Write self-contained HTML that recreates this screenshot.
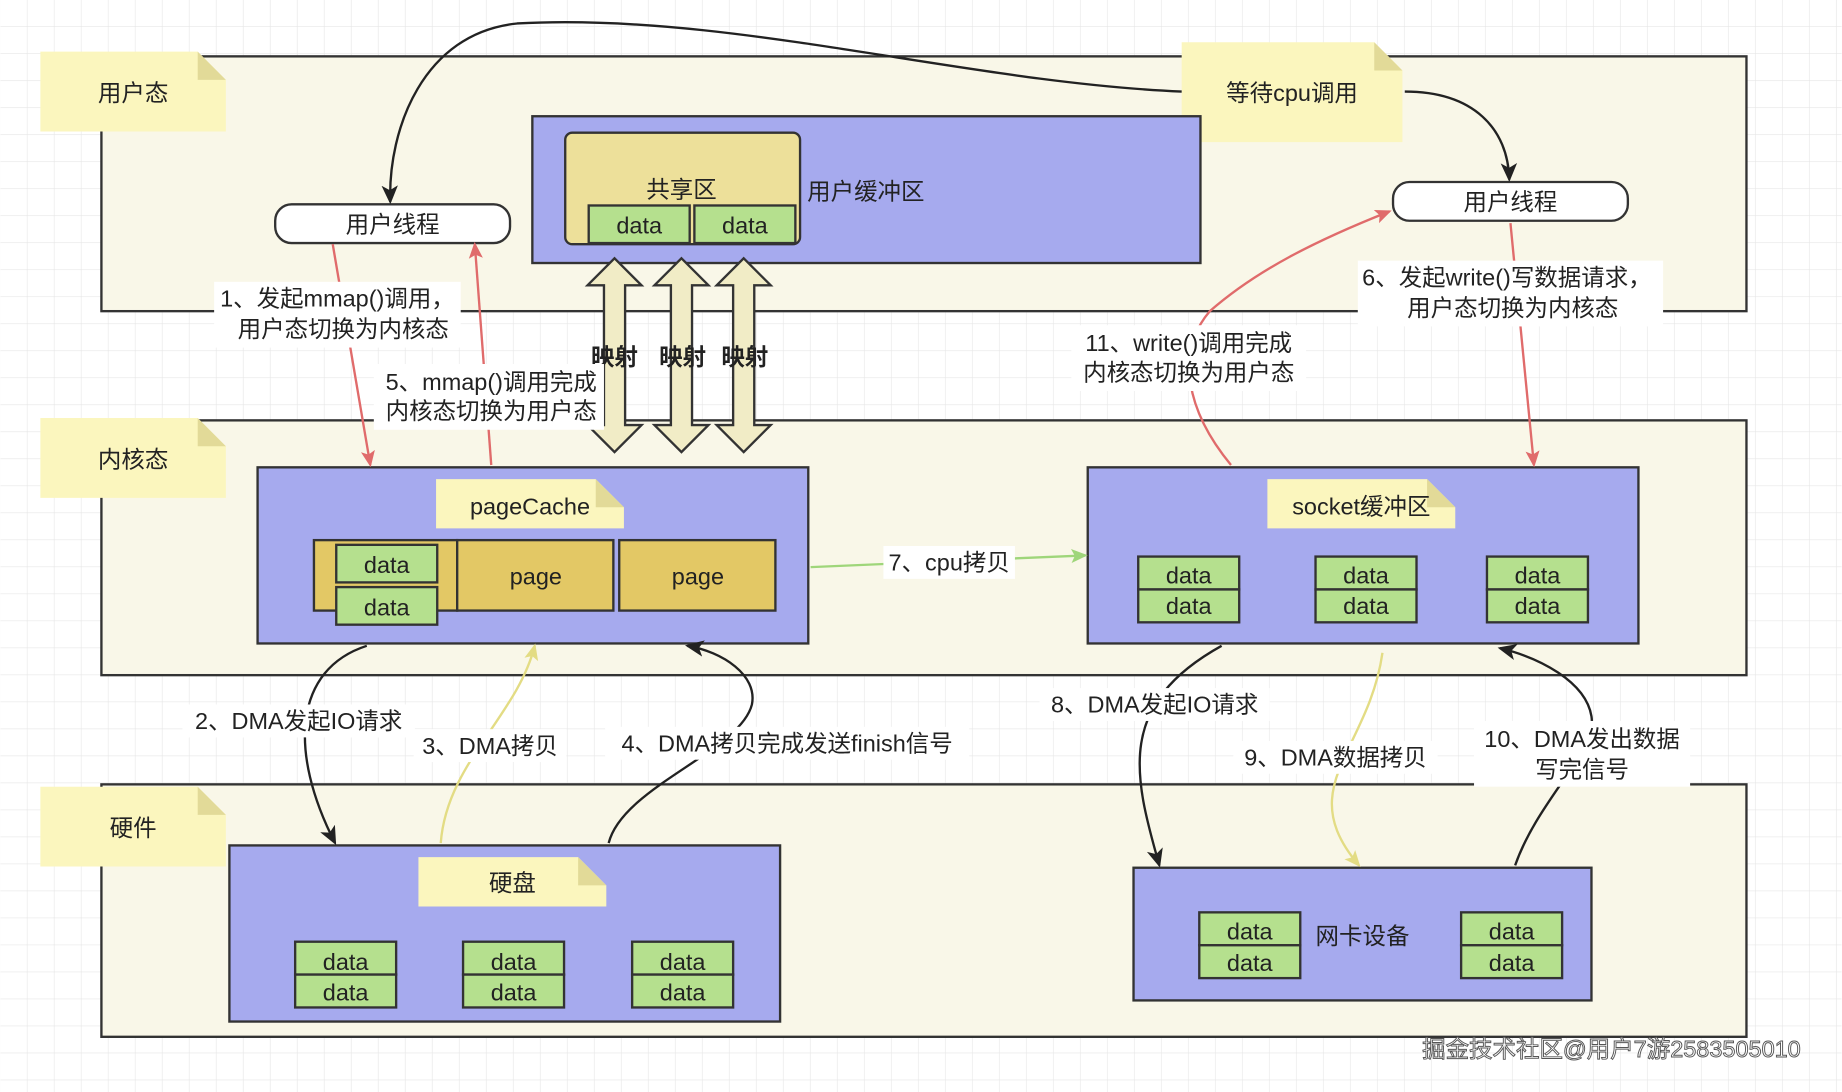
<!DOCTYPE html>
<html><head><meta charset="utf-8"><style>
html,body{margin:0;padding:0;background:#fff;}
svg{display:block;}
text{font-family:"Liberation Sans","Noto Sans CJK SC",sans-serif;font-size:20px;fill:#222;}
</style></head><body>
<svg width="1842" height="1092" viewBox="0 0 1568 930" xmlns="http://www.w3.org/2000/svg">
<defs>
<pattern id="g" width="23" height="23" patternUnits="userSpaceOnUse"><path d="M23 0V23H0" fill="none" stroke="#e6e6e6" stroke-width="1"/></pattern>
<marker id="ab" markerWidth="10" markerHeight="10" refX="8" refY="5" orient="auto" markerUnits="userSpaceOnUse"><path d="M0,0 L10,5 L0,10 L3,5z" fill="#222"/></marker>
<marker id="ar" markerWidth="14" markerHeight="14" refX="12" refY="7" orient="auto" markerUnits="userSpaceOnUse"><path d="M0,1 L14,7 L0,13 L3,7z" fill="#e06b6b"/></marker>
<marker id="ag" markerWidth="14" markerHeight="14" refX="12" refY="7" orient="auto" markerUnits="userSpaceOnUse"><path d="M0,1 L14,7 L0,13 L3,7z" fill="#9fd67a"/></marker>
<marker id="ay" markerWidth="14" markerHeight="14" refX="12" refY="7" orient="auto" markerUnits="userSpaceOnUse"><path d="M0,1 L14,7 L0,13 L3,7z" fill="#e3dc84"/></marker>
<marker id="abk" markerWidth="16" markerHeight="16" refX="14" refY="8" orient="auto" markerUnits="userSpaceOnUse"><path d="M0,1 L16,8 L0,15 L4,8z" fill="#222"/></marker>
</defs>
<rect width="1568" height="930" fill="#fff"/>
<rect width="1568" height="930" fill="url(#g)"/>

<!-- bands -->
<rect x="86" y="48" width="1401" height="217" fill="#f9f7e8" stroke="#333" stroke-width="2"/>
<rect x="86" y="358" width="1401" height="217" fill="#f9f7e8" stroke="#333" stroke-width="2"/>
<rect x="86" y="668" width="1401" height="215" fill="#f9f7e8" stroke="#333" stroke-width="2"/>

<!-- notes -->
<g>
<path d="M34,44 H168 L192,68 V112 H34z" fill="#fbf6be"/><path d="M168,44 V68 H192z" fill="#e2da98"/>
<text x="113" y="86" text-anchor="middle">用户态</text>
<path d="M34,356 H168 L192,380 V424 H34z" fill="#fbf6be"/><path d="M168,356 V380 H192z" fill="#e2da98"/>
<text x="113" y="398" text-anchor="middle">内核态</text>
<path d="M34,670 H168 L192,694 V738 H34z" fill="#fbf6be"/><path d="M168,670 V694 H192z" fill="#e2da98"/>
<text x="113" y="712" text-anchor="middle">硬件</text>
<path d="M1006,36 H1170 L1194,60 V121 H1006z" fill="#fbf6be"/><path d="M1170,36 V60 H1194z" fill="#e2da98"/>
<text x="1100" y="86" text-anchor="middle">等待cpu调用</text>
</g>

<!-- user buffer -->
<rect x="453" y="99" width="569" height="125" fill="#a6aaee" stroke="#333" stroke-width="2"/>
<rect x="481" y="113" width="200" height="95" rx="6" fill="#ede09a" stroke="#333" stroke-width="2"/>
<text x="580" y="168" text-anchor="middle">共享区</text>
<rect x="501" y="175" width="86" height="32" fill="#b5e08e" stroke="#333" stroke-width="2"/>
<rect x="591" y="175" width="86" height="32" fill="#b5e08e" stroke="#333" stroke-width="2"/>
<text x="544" y="199" text-anchor="middle">data</text>
<text x="634" y="199" text-anchor="middle">data</text>
<text x="737" y="170" text-anchor="middle">用户缓冲区</text>

<!-- threads -->
<rect x="234" y="174" width="200" height="33" rx="14" fill="#fff" stroke="#333" stroke-width="2"/>
<text x="334" y="198" text-anchor="middle">用户线程</text>
<rect x="1186" y="155" width="200" height="33" rx="14" fill="#fff" stroke="#333" stroke-width="2"/>
<text x="1286" y="179" text-anchor="middle">用户线程</text>

<!-- mapping arrows -->
<g fill="#f1ecc6" stroke="#333" stroke-width="2">
<path d="M523,220 L546,243 H532 V362 H546 L523,385 L500,362 H514 V243 H500z"/>
<path d="M580,220 L603,243 H589 V362 H603 L580,385 L557,362 H571 V243 H557z"/>
<path d="M633,220 L656,243 H642 V362 H656 L633,385 L610,362 H624 V243 H610z"/>
</g>
<g font-weight="bold"><text x="523" y="311" text-anchor="middle" style="font-weight:bold">映射</text>
<text x="581" y="311" text-anchor="middle" style="font-weight:bold">映射</text>
<text x="634" y="311" text-anchor="middle" style="font-weight:bold">映射</text></g>

<!-- pageCache -->
<rect x="219" y="398" width="469" height="150" fill="#a6aaee" stroke="#333" stroke-width="2"/>
<path d="M371,408 H507 L531,432 V450 H371z" fill="#fbf6be"/><path d="M507,408 V432 H531z" fill="#e2da98"/>
<text x="451" y="438" text-anchor="middle">pageCache</text>
<rect x="267" y="460" width="122" height="60" fill="#e3c865" stroke="#333" stroke-width="2"/>
<rect x="286" y="464" width="86" height="32" fill="#b5e08e" stroke="#333" stroke-width="2"/>
<rect x="286" y="500" width="86" height="32" fill="#b5e08e" stroke="#333" stroke-width="2"/>
<text x="329" y="488" text-anchor="middle">data</text><text x="329" y="524" text-anchor="middle">data</text>
<rect x="389" y="460" width="133" height="60" fill="#e3c865" stroke="#333" stroke-width="2"/>
<rect x="527" y="460" width="133" height="60" fill="#e3c865" stroke="#333" stroke-width="2"/>
<text x="456" y="498" text-anchor="middle">page</text><text x="594" y="498" text-anchor="middle">page</text>

<!-- socket -->
<rect x="926" y="398" width="469" height="150" fill="#a6aaee" stroke="#333" stroke-width="2"/>
<path d="M1079,408 H1215 L1239,432 V450 H1079z" fill="#fbf6be"/><path d="M1215,408 V432 H1239z" fill="#e2da98"/>
<text x="1159" y="438" text-anchor="middle">socket缓冲区</text>
<g fill="#b5e08e" stroke="#333" stroke-width="2">
<rect x="969" y="474" width="86" height="28"/><rect x="969" y="502" width="86" height="28"/>
<rect x="1120" y="474" width="86" height="28"/><rect x="1120" y="502" width="86" height="28"/>
<rect x="1266" y="474" width="86" height="28"/><rect x="1266" y="502" width="86" height="28"/>
</g>
<text x="1012" y="497" text-anchor="middle">data</text><text x="1012" y="523" text-anchor="middle">data</text>
<text x="1163" y="497" text-anchor="middle">data</text><text x="1163" y="523" text-anchor="middle">data</text>
<text x="1309" y="497" text-anchor="middle">data</text><text x="1309" y="523" text-anchor="middle">data</text>

<!-- disk -->
<rect x="195" y="720" width="469" height="150" fill="#a6aaee" stroke="#333" stroke-width="2"/>
<path d="M356,730 H492 L516,754 V772 H356z" fill="#fbf6be"/><path d="M492,730 V754 H516z" fill="#e2da98"/>
<text x="436" y="759" text-anchor="middle">硬盘</text>
<g fill="#b5e08e" stroke="#333" stroke-width="2">
<rect x="251" y="802" width="86" height="28"/><rect x="251" y="830" width="86" height="28"/>
<rect x="394" y="802" width="86" height="28"/><rect x="394" y="830" width="86" height="28"/>
<rect x="538" y="802" width="86" height="28"/><rect x="538" y="830" width="86" height="28"/>
</g>
<text x="294" y="826" text-anchor="middle">data</text><text x="294" y="852" text-anchor="middle">data</text>
<text x="437" y="826" text-anchor="middle">data</text><text x="437" y="852" text-anchor="middle">data</text>
<text x="581" y="826" text-anchor="middle">data</text><text x="581" y="852" text-anchor="middle">data</text>

<!-- NIC -->
<rect x="965" y="739" width="390" height="113" fill="#a6aaee" stroke="#333" stroke-width="2"/>
<g fill="#b5e08e" stroke="#333" stroke-width="2">
<rect x="1021" y="777" width="86" height="28"/><rect x="1021" y="805" width="86" height="28"/>
<rect x="1244" y="777" width="86" height="28"/><rect x="1244" y="805" width="86" height="28"/>
</g>
<text x="1064" y="800" text-anchor="middle">data</text><text x="1064" y="827" text-anchor="middle">data</text>
<text x="1287" y="800" text-anchor="middle">data</text><text x="1287" y="827" text-anchor="middle">data</text>
<text x="1160" y="804" text-anchor="middle">网卡设备</text>

<!-- connectors -->
<g fill="none" stroke-width="2">
<path d="M1006,78 C820,70 620,10 440,20 C360,28 330,110 332,172" stroke="#222" marker-end="url(#abk)"/>
<path d="M1196,78 C1255,78 1284,110 1285,153" stroke="#222" marker-end="url(#abk)"/>
<path d="M283,208 L315,396" stroke="#e06b6b" marker-end="url(#ar)"/>
<path d="M418,396 L404,208" stroke="#e06b6b" marker-end="url(#ar)"/>
<path d="M1286,190 L1306,396" stroke="#e06b6b" marker-end="url(#ar)"/>
<path d="M1048,396 C1010,350 1000,300 1030,265 C1070,230 1120,205 1183,180" stroke="#e06b6b" marker-end="url(#ar)"/>
<path d="M690,483 L924,473" stroke="#9fd67a" marker-end="url(#ag)"/>
<path d="M312,550 C250,570 245,640 285,718" stroke="#222" marker-end="url(#abk)"/>
<path d="M375,718 C380,650 440,610 455,550" stroke="#e3dc84" marker-end="url(#ay)"/>
<path d="M518,718 C530,670 630,640 640,600 C645,575 615,555 585,550" stroke="#222" marker-end="url(#abk)"/>
<path d="M1040,550 C950,600 965,660 987,737" stroke="#222" marker-end="url(#abk)"/>
<path d="M1177,556 C1165,640 1100,670 1157,737" stroke="#e3dc84" marker-end="url(#ay)"/>
<path d="M1290,737 C1310,680 1360,640 1355,610 C1350,580 1310,560 1277,552" stroke="#222" marker-end="url(#abk)"/>
</g>

<!-- labels -->
<g>
<rect x="182" y="240" width="210" height="56" fill="#fff"/>
<text x="287" y="261" text-anchor="middle">1、发起mmap()调用，</text>
<text x="292" y="287" text-anchor="middle">用户态切换为内核态</text>
<rect x="318" y="310" width="196" height="56" fill="#fff"/>
<text x="418" y="332" text-anchor="middle">5、mmap()调用完成</text>
<text x="418" y="357" text-anchor="middle">内核态切换为用户态</text>
<rect x="1156" y="222" width="260" height="56" fill="#fff"/>
<text x="1283" y="243" text-anchor="middle">6、发起write()写数据请求，</text>
<text x="1288" y="269" text-anchor="middle">用户态切换为内核态</text>
<rect x="912" y="277" width="200" height="56" fill="#fff"/>
<text x="1012" y="299" text-anchor="middle">11、write()调用完成</text>
<text x="1012" y="324" text-anchor="middle">内核态切换为用户态</text>
<rect x="752" y="465" width="112" height="28" fill="#fff"/>
<text x="808" y="486" text-anchor="middle">7、cpu拷贝</text>
<rect x="155" y="600" width="198" height="28" fill="#fff"/>
<text x="254" y="621" text-anchor="middle">2、DMA发起IO请求</text>
<rect x="352" y="621" width="130" height="28" fill="#fff"/>
<text x="417" y="642" text-anchor="middle">3、DMA拷贝</text>
<rect x="515" y="619" width="310" height="28" fill="#fff"/>
<text x="670" y="640" text-anchor="middle">4、DMA拷贝完成发送finish信号</text>
<rect x="885" y="586" width="196" height="28" fill="#fff"/>
<text x="983" y="607" text-anchor="middle">8、DMA发起IO请求</text>
<rect x="1050" y="631" width="174" height="28" fill="#fff"/>
<text x="1137" y="652" text-anchor="middle">9、DMA数据拷贝</text>
<rect x="1255" y="614" width="184" height="56" fill="#fff"/>
<text x="1347" y="636" text-anchor="middle">10、DMA发出数据</text>
<text x="1347" y="662" text-anchor="middle">写完信号</text>
</g>
<text x="1372" y="900" text-anchor="middle" style="fill:#fff;stroke:#555;stroke-width:0.8;font-size:20px">掘金技术社区@用户7游2583505010</text>
</svg>
</body></html>
